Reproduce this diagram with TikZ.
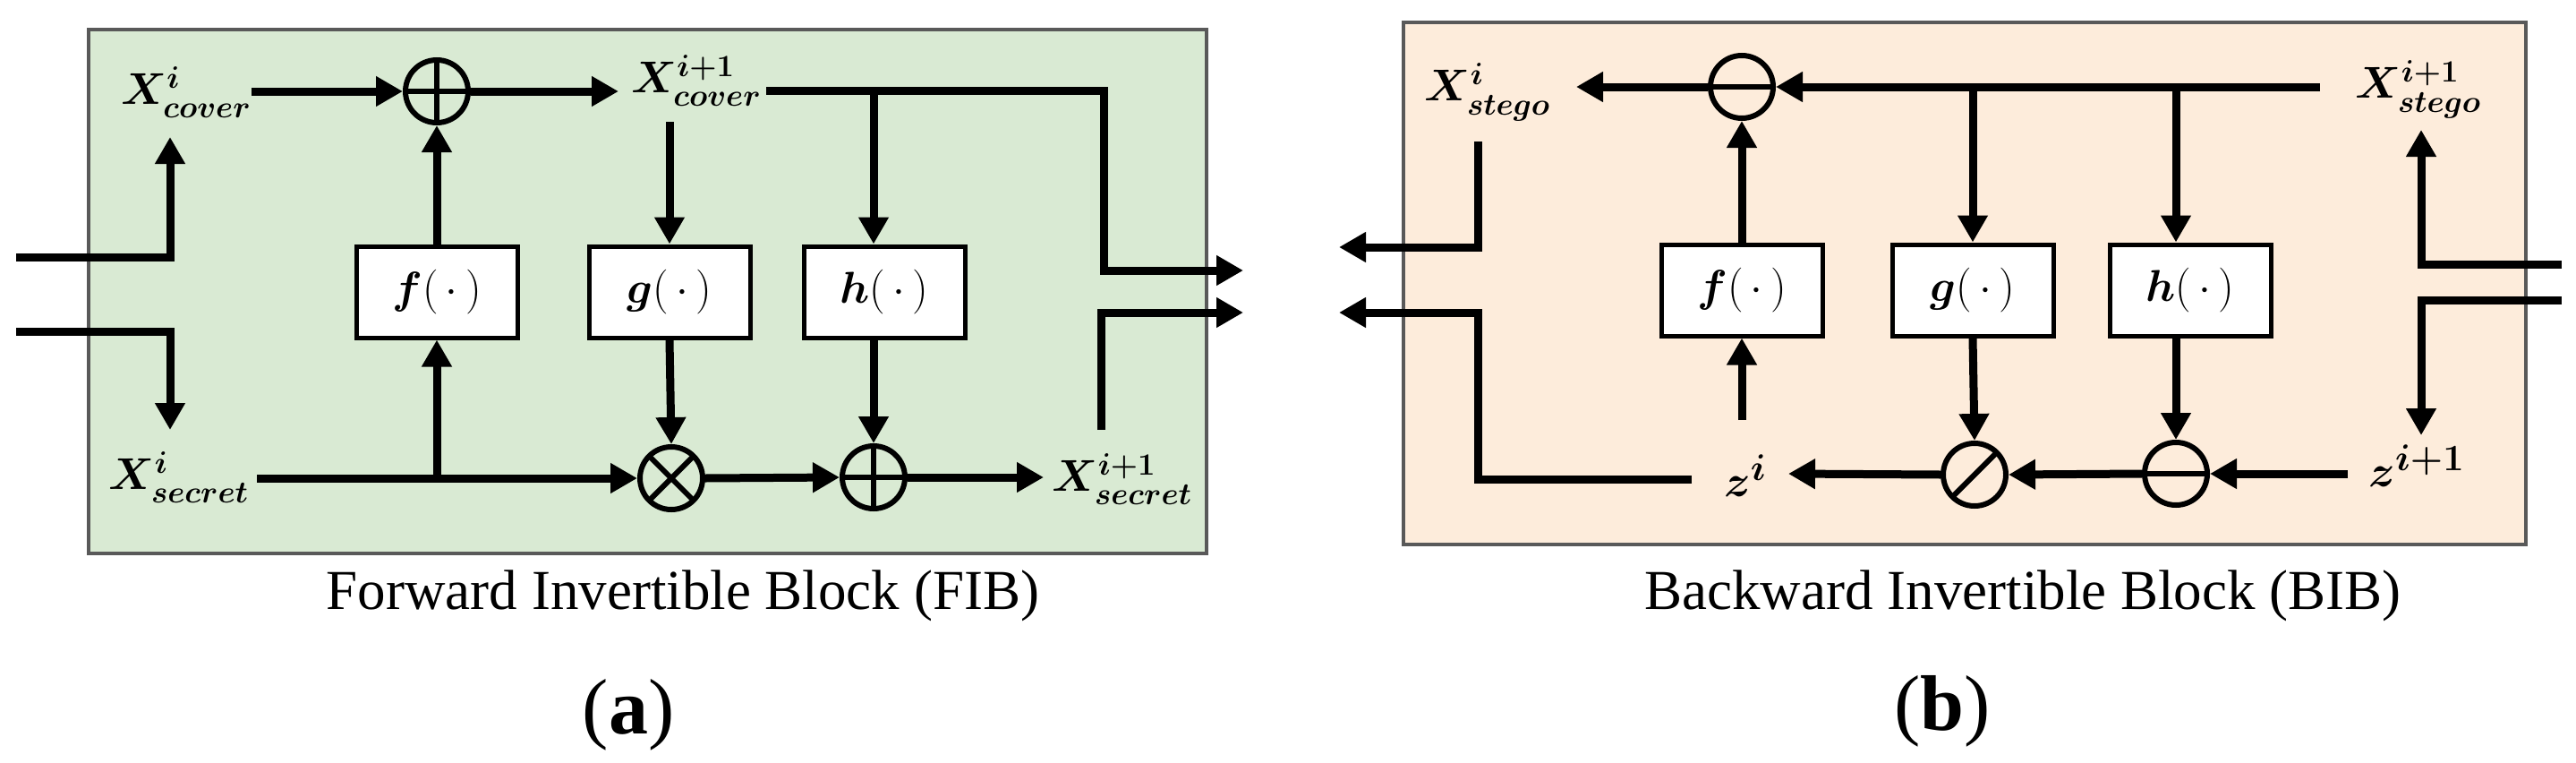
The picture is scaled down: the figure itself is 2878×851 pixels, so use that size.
\documentclass[tikz,border=0pt]{standalone}
\usepackage[no-math]{fontspec}
\usepackage{bm}
\newfontfamily\capfont{Liberation Serif}
\usetikzlibrary{arrows.meta}
\definecolor{fibgreen}{RGB}{217,234,211}
\definecolor{biborange}{RGB}{253,236,219}
\definecolor{framegray}{RGB}{89,89,89}
\tikzset{
  ln/.style={line width=4.5pt, line join=miter},
  arr/.style={ln, -{Triangle[length=15pt,width=16pt]}},
  fn/.style={draw, line width=2.5pt, fill=white, minimum width=90pt, minimum height=51pt, inner sep=0pt, font=\fontsize{28}{28}\selectfont},
  opn/.style={circle, draw, line width=3pt, minimum size=35pt, inner sep=0pt},
  opplus/.style={opn, path picture={\draw[line width=3pt] (path picture bounding box.north) -- (path picture bounding box.south) (path picture bounding box.west) -- (path picture bounding box.east);}},
  opminus/.style={opn, path picture={\draw[line width=3pt] (path picture bounding box.west) -- (path picture bounding box.east);}},
  optimes/.style={opn, path picture={\draw[line width=3pt] (path picture bounding box.north west) -- (path picture bounding box.south east) (path picture bounding box.south west) -- (path picture bounding box.north east);}},
  opslash/.style={opn, path picture={\draw[line width=3pt] (path picture bounding box.south west) -- (path picture bounding box.north east);}},
  lbl/.style={inner sep=0pt, font=\fontsize{27}{27}\selectfont\boldmath},
  zlbl/.style={inner sep=0pt, font=\fontsize{30}{30}\selectfont\boldmath},
  captxt/.style={inner sep=0pt, font=\capfont\fontsize{31.5}{36}\selectfont},
  subtxt/.style={inner sep=0pt, font=\capfont\fontsize{44}{50}\selectfont},
  panel/.style={draw=framegray, line width=2pt}
}
\begin{document}
\begin{tikzpicture}[x=0.5pt,y=-0.5pt]
\useasboundingbox (0,0) rectangle (2878,851);
% panels
\draw[panel, fill=fibgreen] (99,33) rectangle (1348,618);
\draw[panel, fill=biborange] (1568,25) rectangle (2822,608);

% ---------- (a) FIB ----------
\node[fn] (f1) at (488,326) {$\bm{f}(\,\cdot\,)$};
\node[fn] (g1) at (748,326) {$\bm{g}(\,\cdot\,)$};
\node[fn] (h1) at (988,326) {$\bm{h}(\,\cdot\,)$};
\node[opplus] (a1) at (488,102) {};
\node[optimes] (m1) at (750,534) {};
\node[opplus] (a2) at (976,533) {};
\node[lbl] (xc) at (208,103) {$X^{i}_{cover}$};
\node[lbl] (xc2) at (778,90) {$X^{i+1}_{cover}$};
\node[lbl] (xs) at (200,533) {$X^{i}_{secret}$};
\node[lbl] (xs2) at (1254,535) {$X^{i+1}_{secret}$};

\coordinate (in1) at (18,287);
\coordinate (cin) at (190,153);
\coordinate (in2) at (18,370);
\coordinate (sin) at (190,480);
\coordinate (tl0) at (856,101);
\coordinate (tl1) at (1233,101);
\coordinate (out1) at (1389,302);
\coordinate (gin) at (748,136);
\coordinate (o2s) at (1230,480);
\coordinate (out2) at (1389,349);
\coordinate (sout) at (1166,533);
\coordinate (cvo) at (691,102);
\coordinate (cvi) at (281,102);
\coordinate (sci) at (287,534);

\draw[arr] (in1) -| (cin);
\draw[arr] (in2) -| (sin);
\draw[arr] (cvi) -- (a1.west);
\draw[arr] (a1.east) -- (cvo);
\draw[arr] (tl0) -- (tl1) |- (out1);
\draw[arr] (a2 |- tl0) -- (a2 |- h1.north);
\draw[arr] (gin) -- (g1.north);
\draw[arr] (f1.north) -- (a1.south);
\draw[arr] (f1 |- m1) -- (f1.south);
\draw[arr] (sci) -- (m1.west);
\draw[arr] (g1.south) -- (m1.north);
\draw[arr] (m1.east) -- (a2.west);
\draw[arr] (a2 |- h1.south) -- (a2.north);
\draw[arr] (a2.east) -- (sout);
\draw[arr] (o2s) |- (out2);

\node[captxt] (capa) at (763,665) {Forward Invertible Block (FIB)};
\node[subtxt] (suba) at (702,798) {(\textbf{a})};

% ---------- (b) BIB ----------
\node[fn] (f2) at (1946,324) {$\bm{f}(\,\cdot\,)$};
\node[fn] (g2) at (2204,324) {$\bm{g}(\,\cdot\,)$};
\node[fn] (h2) at (2447,324) {$\bm{h}(\,\cdot\,)$};
\node[opminus] (s1) at (1946,97) {};
\node[opslash] (d1) at (2206,530) {};
\node[opminus] (s2) at (2431,529) {};
\node[lbl] (xg) at (1662,103) {$X^{i}_{stego}$};
\node[lbl] (xg2) at (2702,100) {$X^{i+1}_{stego}$};
\node[zlbl] (z1) at (1950,531) {$z^{i}$};
\node[zlbl] (z2) at (2700,520) {$z^{i+1}$};

\coordinate (tr0) at (2592,97);
\coordinate (xgo) at (1761,97);
\coordinate (fin) at (1946,469);
\coordinate (br0) at (2623,529);
\coordinate (zo) at (1998,529);
\coordinate (rin1) at (2862,295);
\coordinate (rc1) at (2705,145);
\coordinate (rin2) at (2862,335);
\coordinate (rc2) at (2705,486);
\coordinate (lo1s) at (1651,158);
\coordinate (lo1) at (1496,276);
\coordinate (lo2s) at (1890,535);
\coordinate (lo2m) at (1651,535);
\coordinate (lo2) at (1496,349);

\draw[arr] (tr0) -- (s1.east);
\draw[arr] (s1.west) -- (xgo);
\draw[arr] (g2 |- tr0) -- (g2.north);
\draw[arr] (s2 |- tr0) -- (s2 |- h2.north);
\draw[arr] (f2.north) -- (s1.south);
\draw[arr] (fin) -- (f2.south);
\draw[arr] (g2.south) -- (d1.north);
\draw[arr] (s2 |- h2.south) -- (s2.north);
\draw[arr] (br0) -- (s2.east);
\draw[arr] (s2.west) -- (d1.east);
\draw[arr] (d1.west) -- (zo);
\draw[arr] (rin1) -| (rc1);
\draw[arr] (rin2) -| (rc2);
\draw[arr] (lo1s) |- (lo1);
\draw[arr] (lo2s) -- (lo2m) |- (lo2);

\node[captxt] (capb) at (2260,665) {Backward Invertible Block (BIB)};
\node[subtxt] (subb) at (2170,794) {(\textbf{b})};
\end{tikzpicture}
\end{document}
